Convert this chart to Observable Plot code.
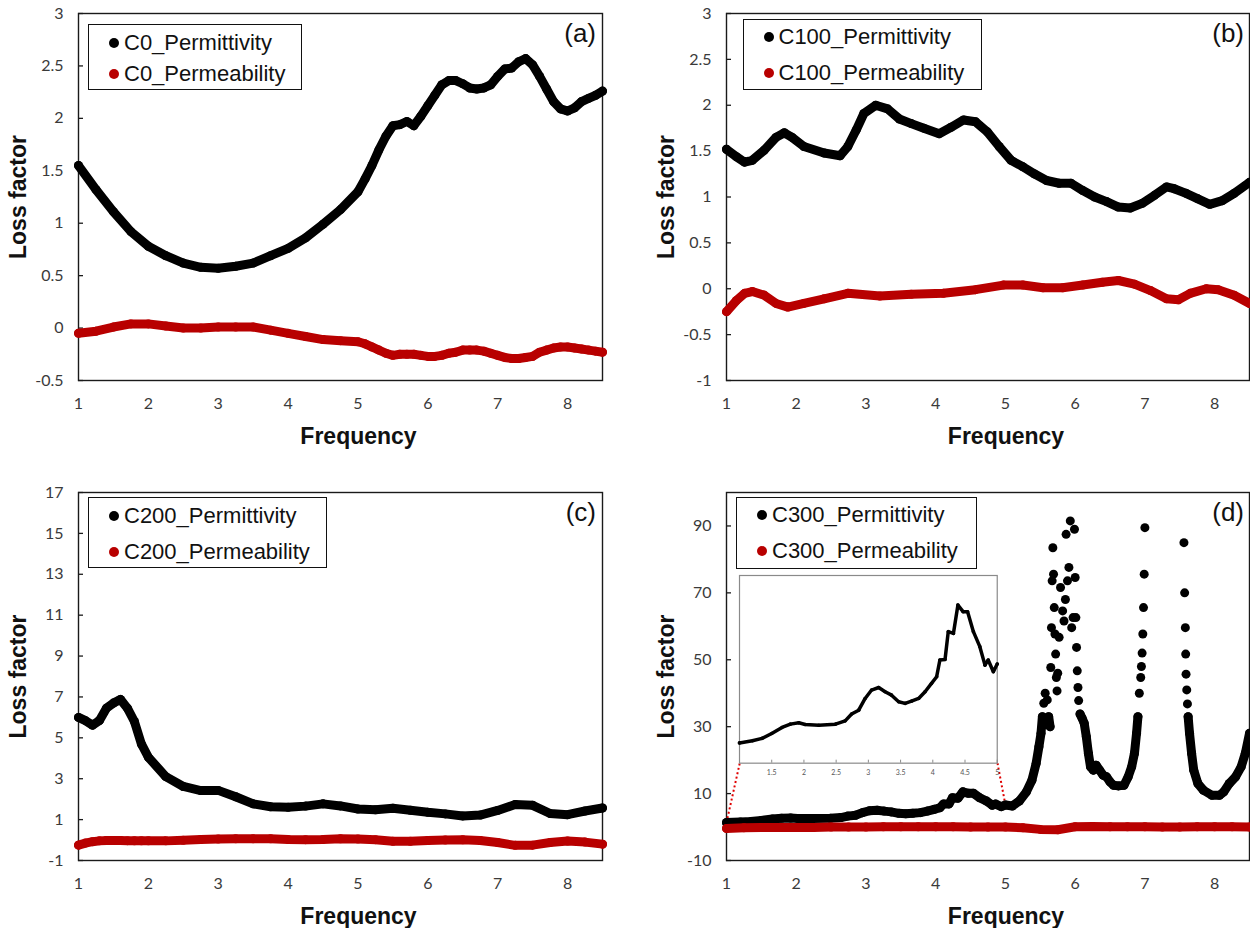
<!DOCTYPE html>
<html>
<head>
<meta charset="utf-8">
<script src="https://cdn.jsdelivr.net/npm/d3@7"></script>
<script src="https://cdn.jsdelivr.net/npm/@observablehq/plot@0.6"></script>
<style>
  body { margin: 0; background: #fff; }
  #wrap { position: relative; width: 1250px; height: 928px; overflow: hidden; background: #fff;
          font-family: "Liberation Sans", Arial, sans-serif; }
  .panel { position: absolute; }
  .panel svg { display: block; }
  .legend { position: absolute; border: 1.5px solid #111; background: #fff; box-sizing: border-box; }
  .legend .dot { position: absolute; width: 10px; height: 10px; border-radius: 50%; transform: translate(-50%, -50%); }
  .legend .lab { position: absolute; font-size: 22px; line-height: 22px; white-space: nowrap; color: #111; transform: translateY(-50%); }
  .tag { position: absolute; font-size: 26px; line-height: 26px; color: #111; transform: translate(-100%, -50%); white-space: nowrap; }
</style>
</head>
<body>
<div id="wrap"></div>
<script>
// ---------------- data ----------------
const xTicks = [1, 2, 3, 4, 5, 6, 7, 8];
const yTicksA = [-0.5, 0, 0.5, 1, 1.5, 2, 2.5, 3];
const yTicksB = [-1, -0.5, 0, 0.5, 1, 1.5, 2, 2.5, 3];
const yTicksC = [-1, 1, 3, 5, 7, 9, 11, 13, 15, 17];
const yTicksD = [-10, 10, 30, 50, 70, 90];
const insetTicks = [1, 1.5, 2, 2.5, 3, 3.5, 4, 4.5, 5];

const panelTags = ["(a)", "(b)", "(c)", "(d)"];
const seriesNames = [
  ["C0_Permittivity", "C0_Permeability"],
  ["C100_Permittivity", "C100_Permeability"],
  ["C200_Permittivity", "C200_Permeability"],
  ["C300_Permittivity", "C300_Permeability"]
];

// (a) C0
const freqA = [1, 1.25, 1.5, 1.75, 2, 2.25, 2.5, 2.75, 3, 3.25,
  3.5, 3.75, 4, 4.25, 4.5, 4.75, 5, 5.1, 5.2, 5.3,
  5.4, 5.5, 5.6, 5.7, 5.8, 5.9, 6, 6.1, 6.2, 6.3,
  6.4, 6.5, 6.6, 6.7, 6.8, 6.9, 7, 7.1, 7.2, 7.3,
  7.4, 7.5, 7.6, 7.7, 7.8, 7.9, 8, 8.1, 8.2, 8.3,
  8.4, 8.5];
const c0Permittivity = [1.55, 1.32, 1.11, 0.92, 0.78, 0.69, 0.62, 0.58, 0.57, 0.59,
  0.62, 0.69, 0.76, 0.86, 0.99, 1.13, 1.30, 1.42, 1.55, 1.70,
  1.83, 1.93, 1.94, 1.97, 1.93, 2.02, 2.12, 2.22, 2.32, 2.36,
  2.36, 2.33, 2.29, 2.28, 2.29, 2.32, 2.40, 2.47, 2.48, 2.54,
  2.57, 2.51, 2.40, 2.28, 2.16, 2.09, 2.07, 2.10, 2.16, 2.19,
  2.22, 2.26];
const c0Permeability = [-0.05, -0.03, 0.01, 0.04, 0.04, 0.02, 0.00, 0.00, 0.01, 0.01,
  0.01, -0.02, -0.05, -0.08, -0.11, -0.12, -0.13, -0.15, -0.18, -0.21,
  -0.24, -0.26, -0.25, -0.25, -0.25, -0.26, -0.27, -0.27, -0.26, -0.24,
  -0.23, -0.21, -0.21, -0.21, -0.22, -0.24, -0.26, -0.28, -0.29, -0.29,
  -0.28, -0.27, -0.23, -0.21, -0.19, -0.18, -0.18, -0.19, -0.20, -0.21,
  -0.22, -0.23];

// (b) C100
const freqB1 = [1.0, 1.14, 1.26, 1.37, 1.54, 1.71, 1.83, 1.94, 2.11, 2.40,
  2.63, 2.74, 2.86, 2.97, 3.14, 3.31, 3.48, 3.65, 3.83, 4.05,
  4.22, 4.40, 4.57, 4.74, 4.91, 5.08, 5.25, 5.42, 5.59, 5.77,
  5.94, 6.11, 6.28, 6.45, 6.62, 6.79, 6.96, 7.14, 7.31, 7.42,
  7.59, 7.76, 7.93, 8.11, 8.28, 8.5];
const c100Permittivity = [1.52, 1.44, 1.38, 1.40, 1.51, 1.65, 1.70, 1.65, 1.55, 1.48,
  1.45, 1.55, 1.73, 1.91, 2.00, 1.96, 1.85, 1.80, 1.75, 1.69,
  1.76, 1.84, 1.82, 1.71, 1.55, 1.40, 1.33, 1.25, 1.18, 1.15,
  1.15, 1.07, 1.00, 0.95, 0.89, 0.88, 0.93, 1.02, 1.11, 1.09,
  1.04, 0.98, 0.92, 0.96, 1.04, 1.16];
const freqB2 = [1.0, 1.14, 1.26, 1.37, 1.54, 1.71, 1.88, 2.11, 2.40, 2.74,
  3.20, 3.65, 4.11, 4.57, 4.97, 5.25, 5.54, 5.82, 6.11, 6.39,
  6.62, 6.85, 7.08, 7.31, 7.48, 7.65, 7.88, 8.05, 8.28, 8.5];
const c100Permeability = [-0.25, -0.13, -0.05, -0.03, -0.07, -0.16, -0.20, -0.16, -0.11, -0.05,
  -0.08, -0.06, -0.05, -0.01, 0.04, 0.04, 0.01, 0.01, 0.04, 0.07,
  0.09, 0.05, -0.02, -0.11, -0.12, -0.05, 0.00, -0.01, -0.07, -0.16];

// (c) C200
const freqC = [1.0, 1.1, 1.2, 1.3, 1.4, 1.5, 1.6, 1.7, 1.8, 1.9,
  2.0, 2.25, 2.5, 2.75, 3.0, 3.25, 3.5, 3.75, 4.0, 4.25,
  4.5, 4.75, 5.0, 5.25, 5.5, 5.75, 6.0, 6.25, 6.5, 6.75,
  7.0, 7.25, 7.5, 7.75, 8.0, 8.25, 8.5];
const c200Permittivity = [6.0, 5.84, 5.62, 5.85, 6.45, 6.7, 6.88, 6.45, 5.8, 4.7,
  4.05, 3.1, 2.62, 2.42, 2.43, 2.12, 1.77, 1.63, 1.60, 1.66,
  1.77, 1.67, 1.52, 1.48, 1.56, 1.46, 1.36, 1.28, 1.18, 1.22,
  1.45, 1.74, 1.70, 1.30, 1.24, 1.42, 1.57];
const c200Permeability = [-0.25, -0.15, -0.08, -0.04, -0.02, -0.02, -0.02, -0.03, -0.04, -0.04,
  -0.04, -0.04, -0.01, 0.03, 0.05, 0.06, 0.06, 0.06, 0.03, 0.02,
  0.03, 0.06, 0.05, 0.02, -0.06, -0.06, -0.02, 0.00, 0.01, -0.02,
  -0.12, -0.26, -0.25, -0.12, -0.05, -0.10, -0.20];

// (d) C300
const freqD = [1.0, 1.2, 1.35, 1.5, 1.66, 1.79, 1.92, 2.02, 2.23, 2.49,
  2.64, 2.74, 2.85, 2.95, 3.05, 3.16, 3.26, 3.36, 3.47, 3.57,
  3.67, 3.78, 3.88, 3.98, 4.06, 4.11, 4.19, 4.24, 4.32, 4.39,
  4.47, 4.54, 4.63, 4.73, 4.81, 4.86, 4.94, 5.0, 5.1, 5.2,
  5.3, 5.38, 5.44, 5.48, 5.51, 5.53, 5.55, 5.57, 5.6, 5.62,
  5.64, 5.65, 5.66, 5.67, 5.68, 5.69, 5.7, 5.71, 5.72, 5.73,
  5.74, 5.75, 5.77, 5.79, 5.82, 5.84, 5.86, 5.87, 5.89, 5.91,
  5.93, 5.95, 5.97, 5.99, 6.0, 6.01, 6.02, 6.03, 6.04, 6.05,
  6.07, 6.1, 6.13, 6.16, 6.19, 6.22, 6.26, 6.3, 6.35, 6.4,
  6.45, 6.5, 6.55, 6.62, 6.7, 6.76, 6.81, 6.85, 6.88, 6.9,
  6.92, 6.94, 6.95, 6.96, 6.97, 6.98, 6.99, 7.0, 7.56, 7.57,
  7.58, 7.585, 7.59, 7.6, 7.61, 7.62, 7.64, 7.67, 7.7, 7.76,
  7.84, 7.96, 8.07, 8.13, 8.21, 8.3, 8.38, 8.44, 8.5];
const c300Permittivity = [1.35, 1.49, 1.65, 1.98, 2.38, 2.6, 2.69, 2.58, 2.53, 2.6,
  2.82, 3.27, 3.53, 4.31, 4.87, 5.04, 4.76, 4.53, 4.09, 3.98,
  4.13, 4.31, 4.76, 5.31, 5.76, 6.87, 6.91, 8.76, 8.64, 10.53,
  10.09, 10.09, 8.76, 7.76, 6.53, 6.87, 6.09, 6.6, 6.3, 7.8,
  10.5, 14, 19, 24, 28, 33, 37, 40, 38, 33,
  30, 47.7, 59.6, 73.6, 83.5, 75.6, 65.6, 57.7, 51.7, 44.7,
  40.7, 46, 56.7, 71.6, 64.6, 61.6, 68, 87.5, 73.6, 77.6,
  91.5, 59.6, 62.6, 89, 74.6, 62.6, 53.7, 46.7, 41.7, 37.8,
  33.8, 32.5, 31, 27, 22, 18, 17, 18.5, 17, 15.5,
  15, 13.5, 12.5, 12.3, 12.5, 15, 18, 22, 28, 33,
  40, 44.7, 48, 52, 57.7, 65.6, 75.6, 89.5, 85, 70,
  59.6, 51.7, 45.7, 41, 36.8, 33, 28, 22, 17, 13,
  11, 9.5, 9.5, 10.5, 13, 15, 18, 22, 28];
const freqD2 = [1, 1.25, 1.5, 1.75, 2, 2.25, 2.5, 2.75, 3, 3.25,
  3.5, 3.75, 4, 4.25, 4.5, 4.75, 5, 5.25, 5.5, 5.75,
  6, 6.25, 6.5, 6.75, 7, 7.25, 7.5, 7.75, 8, 8.25, 8.5];
const c300Permeability = [-0.4, -0.2, -0.1, -0.1, -0.1, -0.1, 0.0, 0.0, 0.0, 0.1,
  0.1, 0.1, 0.1, 0.1, 0.0, 0.0, 0.0, -0.2, -0.7, -0.8,
  0.1, 0.2, 0.1, 0.1, 0.1, 0.0, 0.0, 0.1, 0.1, 0.1, 0.0];

// ---------------- style constants ----------------
const BLACK = "#000000";
const RED = "#b80000";
const TICK_FONT = "Lato, 'Liberation Sans', sans-serif";
const TITLE_FONT = "'Liberation Sans', Arial, sans-serif";
// inset location inside panel (d), in panel (d) data units
const insetBox = { x: [1.19, 4.886], y: [19.1, 75.2] };
const insetYDomain = [0, 12.5];

const wrap = document.getElementById("wrap");

function mkSeries(xs, ys, color, lineMax) {
  return { data: xs.map((x, i) => ({ x, y: ys[i] })), color, lineMax };
}

function seriesMarks(s) {
  const yLine = s.lineMax == null ? "y" : (d => (d.y <= s.lineMax ? d.y : NaN));
  return [
    Plot.line(s.data, { x: "x", y: yLine, stroke: s.color, strokeWidth: 9, strokeLinecap: "round", strokeLinejoin: "round" }),
    Plot.dot(s.data, { x: "x", y: "y", r: 4.5, fill: s.color, stroke: "none" })
  ];
}

function panelPlot(cfg) {
  const fw = cfg.width - cfg.mL - cfg.mR;
  const marks = [
    Plot.frame({ stroke: "#1a1a1a", strokeWidth: 1.4 }),
    Plot.tickY(cfg.yTicks, { y: d => d, insetRight: fw - 5, stroke: "#1a1a1a", strokeWidth: 1.3 }),
    Plot.axisY({ ticks: cfg.yTicks, tickSize: 0, tickPadding: 15, fontSize: 16, fill: "#3a3a3a", tickFormat: d => String(d), label: null }),
    Plot.axisX({ ticks: xTicks, tickSize: 0, tickPadding: 17, fontSize: 16, fill: "#3a3a3a", tickFormat: d => String(d), label: null }),
    ...(cfg.extra || []),
    ...cfg.series.flatMap(seriesMarks),
    Plot.text(["Frequency"], { text: d => d, frameAnchor: "bottom", textAnchor: "middle", lineAnchor: "middle",
      dx: 18, dy: 56, fontSize: 23, fontWeight: "bold", fontFamily: TITLE_FONT, fill: "#111" }),
    Plot.text(["Loss factor"], { text: d => d, frameAnchor: "left", textAnchor: "middle", lineAnchor: "middle",
      dx: -60, rotate: -90, fontSize: 23, fontWeight: "bold", fontFamily: TITLE_FONT, fill: "#111" })
  ];
  const svg = Plot.plot({
    width: cfg.width, height: cfg.height,
    marginLeft: cfg.mL, marginRight: cfg.mR, marginTop: cfg.mT, marginBottom: cfg.mB,
    x: { domain: [1, 8.5] },
    y: { domain: cfg.yDomain },
    style: { fontFamily: TICK_FONT, background: "transparent", overflow: "visible" },
    marks
  });
  const div = document.createElement("div");
  div.className = "panel";
  div.style.left = cfg.left + "px";
  div.style.top = cfg.top + "px";
  div.style.width = cfg.width + "px";
  div.appendChild(svg);
  wrap.appendChild(div);
  return svg;
}

function addLegend(names, spec) {
  const box = document.createElement("div");
  box.className = "legend";
  Object.assign(box.style, { left: spec.left + "px", top: spec.top + "px", width: spec.width + "px", height: spec.height + "px" });
  [BLACK, RED].forEach((c, i) => {
    const dot = document.createElement("div");
    dot.className = "dot";
    Object.assign(dot.style, { left: "25px", top: spec.rows[i] + "px", background: c });
    const lab = document.createElement("div");
    lab.className = "lab";
    Object.assign(lab.style, { left: "35px", top: spec.rows[i] + "px" });
    lab.textContent = names[i];
    box.appendChild(dot);
    box.appendChild(lab);
  });
  wrap.appendChild(box);
}

function addTag(text, x, y) {
  const t = document.createElement("div");
  t.className = "tag";
  t.style.left = x + "px";
  t.style.top = y + "px";
  t.textContent = text;
  wrap.appendChild(t);
}

// ---------------- panels ----------------
panelPlot({
  left: 0, top: 0, width: 620, height: 460, mL: 78, mR: 18, mT: 13, mB: 80,
  yDomain: [-0.5, 3], yTicks: yTicksA,
  series: [mkSeries(freqA, c0Permittivity, BLACK), mkSeries(freqA, c0Permeability, RED)]
});
panelPlot({
  left: 640, top: 0, width: 610, height: 460, mL: 86, mR: 1, mT: 13, mB: 80,
  yDomain: [-1, 3], yTicks: yTicksB,
  series: [mkSeries(freqB1, c100Permittivity, BLACK), mkSeries(freqB2, c100Permeability, RED)]
});
panelPlot({
  left: 0, top: 460, width: 620, height: 468, mL: 78, mR: 18, mT: 32, mB: 68,
  yDomain: [-1, 17], yTicks: yTicksC,
  series: [mkSeries(freqC, c200Permittivity, BLACK), mkSeries(freqC, c200Permeability, RED)]
});

const idxEnd = freqD.indexOf(insetTicks[insetTicks.length - 1]);
const zoomLinks = [
  { x1: freqD[0], y1: c300Permittivity[0], x2: insetBox.x[0], y2: insetBox.y[0] },
  { x1: freqD[idxEnd], y1: c300Permittivity[idxEnd], x2: insetBox.x[1], y2: insetBox.y[0] }
];
const svgD = panelPlot({
  left: 640, top: 460, width: 610, height: 468, mL: 86, mR: 1, mT: 32, mB: 68,
  yDomain: [-10, 100], yTicks: yTicksD,
  extra: [Plot.link(zoomLinks, { x1: "x1", y1: "y1", x2: "x2", y2: "y2", stroke: "#e00000", strokeWidth: 2, strokeDasharray: "2,2.5" })],
  series: [mkSeries(freqD, c300Permittivity, BLACK, 35), mkSeries(freqD2, c300Permeability, RED)]
});

// ---------------- inset ----------------
{
  const sx = svgD.scale("x"), sy = svgD.scale("y");
  const left = 640 + sx.apply(insetBox.x[0]);
  const right = 640 + sx.apply(insetBox.x[1]);
  const top = 460 + sy.apply(insetBox.y[1]);
  const bottom = 460 + sy.apply(insetBox.y[0]);
  const iw = right - left, ih = bottom - top;
  const insetData = freqD.map((x, i) => ({ x, y: c300Permittivity[i] })).filter(d => d.x <= 5);
  const svgI = Plot.plot({
    width: iw, height: ih + 18,
    marginLeft: 0, marginRight: 0, marginTop: 0, marginBottom: 18,
    x: { domain: [1, 5] },
    y: { domain: insetYDomain, axis: null },
    style: { fontFamily: TICK_FONT, background: "transparent", overflow: "visible" },
    marks: [
      Plot.frame({ fill: "#fff", stroke: "#8a8a8a", strokeWidth: 1.2 }),
      Plot.tickX(insetTicks, { x: d => d, insetTop: ih - 3, stroke: "#8a8a8a" }),
      Plot.axisX({ ticks: insetTicks.slice(1), tickSize: 0, tickPadding: 7, fontSize: 7, fill: "#555", tickFormat: d => String(d), label: null }),
      Plot.line(insetData, { x: "x", y: "y", stroke: BLACK, strokeWidth: 3.5, strokeLinejoin: "round", strokeLinecap: "round" }),
      Plot.dot(insetData, { x: "x", y: "y", r: 1.8, fill: BLACK })
    ]
  });
  const div = document.createElement("div");
  div.className = "panel";
  div.style.left = left + "px";
  div.style.top = top + "px";
  div.appendChild(svgI);
  wrap.appendChild(div);
}

// ---------------- legends & tags ----------------
const legendSpecs = [
  { left: 88, top: 24, width: 214, height: 66, rows: [17.5, 48.5] },
  { left: 742.5, top: 19, width: 239, height: 71, rows: [17, 53] },
  { left: 88, top: 497, width: 239, height: 71, rows: [18, 54] },
  { left: 736, top: 497, width: 241, height: 72, rows: [17, 53] }
];
legendSpecs.forEach((s, i) => addLegend(seriesNames[i], s));
const tagPos = [[596, 33], [1244, 33], [596, 512], [1244, 512]];
panelTags.forEach((t, i) => addTag(t, tagPos[i][0], tagPos[i][1]));
</script>
</body>
</html>
